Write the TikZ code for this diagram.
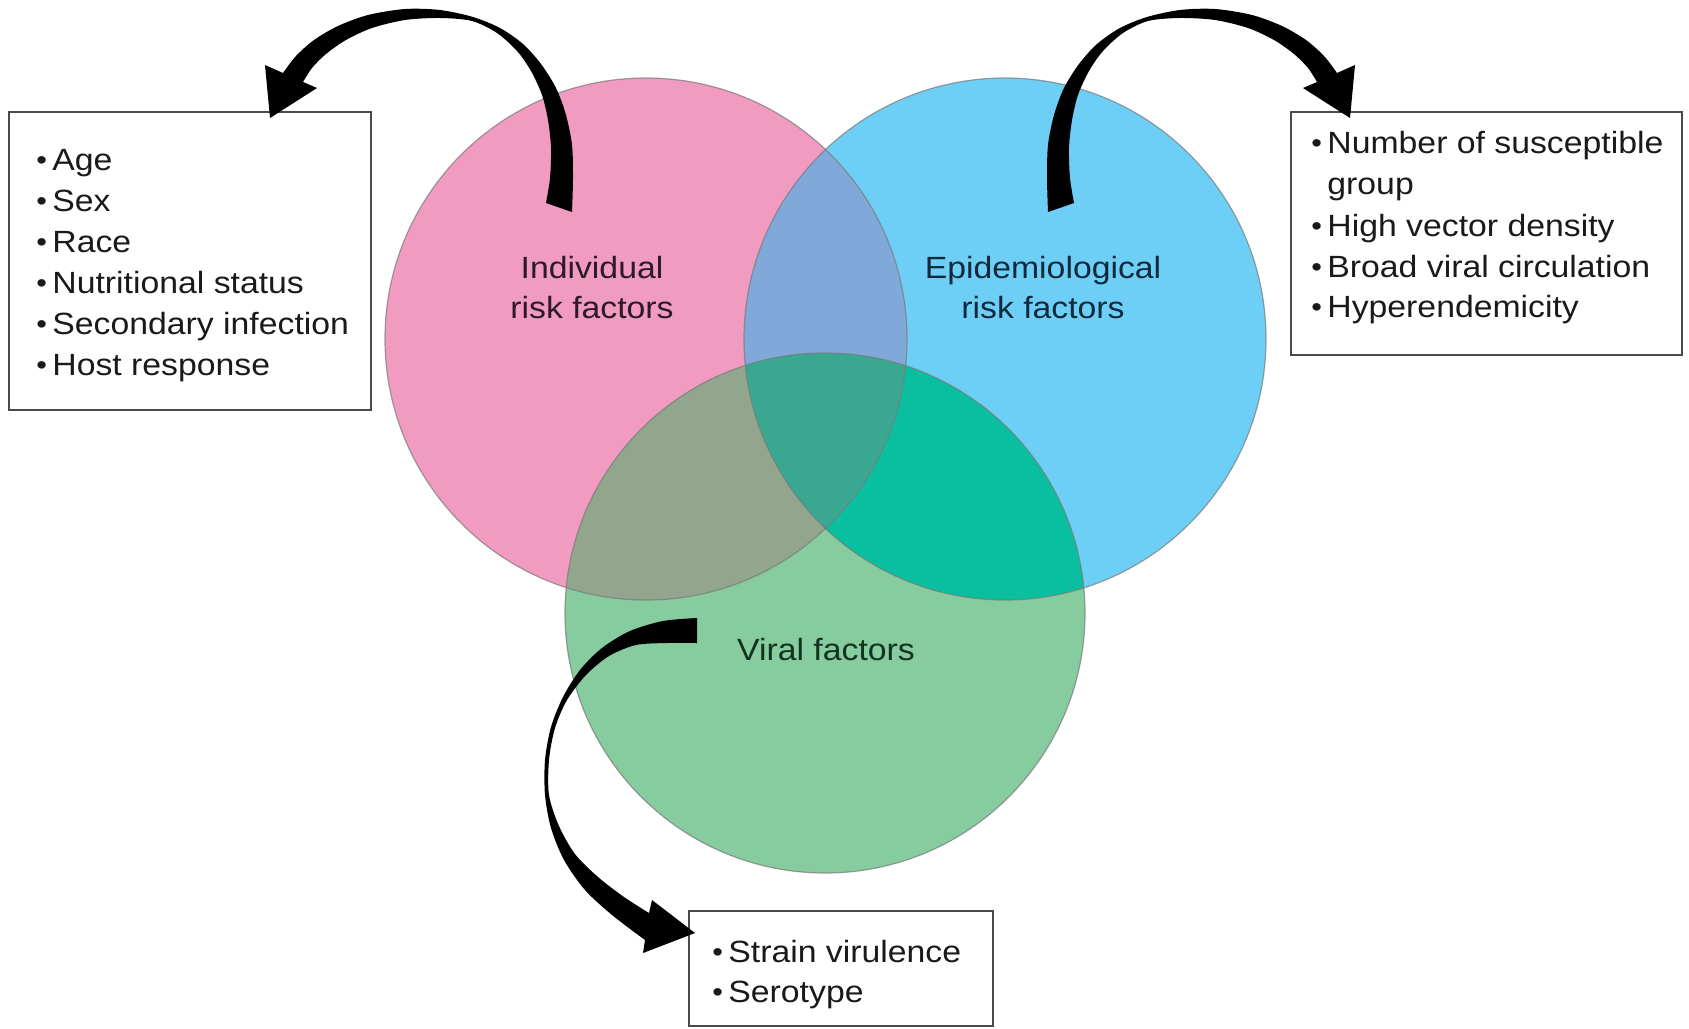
\documentclass[tikz,border=0pt]{standalone}
\usepackage{fontspec}
\setmainfont{Liberation Sans}[FakeStretch=1.1]
\usepackage{graphicx}
\definecolor{pinkc}{HTML}{F29BC1}
\definecolor{bluec}{HTML}{6DCFF6}
\definecolor{greenc}{HTML}{86CC9E}
\definecolor{pbc}{HTML}{80A8D9}
\definecolor{pgc}{HTML}{92A68E}
\definecolor{bgc}{HTML}{0ABEA0}
\definecolor{pbgc}{HTML}{3AA891}
\definecolor{pinktext}{HTML}{2D1A28}
\definecolor{bluetext}{HTML}{102A3C}
\definecolor{greentext}{HTML}{11331F}
\definecolor{boxtext}{HTML}{1A1A1A}
\definecolor{boxline}{HTML}{4A4A4A}
\definecolor{ringline}{HTML}{7A7A7A}
\newcommand{\bl}{\makebox[8pt][l]{\raisebox{0.03em}{\scalebox{0.9}{•}}}}
\tikzset{
  txt/.style={inner sep=0pt, font=\fontsize{15.35}{18}\selectfont},
  item/.style={txt, anchor=base west, text=boxtext},
  clabel/.style={txt, anchor=base},
  infobox/.style={draw=boxline, line width=1pt, fill=white},
  ring/.style={draw=ringline, line width=0.6pt, draw opacity=0.7},
  brush/.style={fill=black}
}
\begin{document}
\begin{tikzpicture}[x=0.5pt,y=-0.5pt]
\useasboundingbox (0,0) rectangle (1689,1028);
\fill[white] (0,0) rectangle (1689,1028);
% circle centres
\coordinate (cP) at (646,339);
\coordinate (cB) at (1005,339);
\coordinate (cG) at (825,613);
% base fills
\fill[pinkc] (cP) circle (130.5pt);
\fill[bluec] (cB) circle (130.5pt);
\fill[greenc] (cG) circle (130pt);
% pairwise overlaps
\begin{scope}
  \clip (cP) circle (130.5pt);
  \fill[pbc] (cB) circle (130.5pt);
  \fill[pgc] (cG) circle (130pt);
\end{scope}
\begin{scope}
  \clip (cB) circle (130.5pt);
  \fill[bgc] (cG) circle (130pt);
\end{scope}
\begin{scope}
  \clip (cP) circle (130.5pt);
  \clip (cB) circle (130.5pt);
  \fill[pbgc] (cG) circle (130pt);
\end{scope}
% outlines
\draw[ring] (cP) circle (130.5pt);
\draw[ring] (cB) circle (130.5pt);
\draw[ring] (cG) circle (130pt);
% circle labels
\node[clabel, text=pinktext] (ind1) at (592,278) {Individual};
\node[clabel, text=pinktext] (ind2) at (592,318) {risk factors};
\node[clabel, text=bluetext] (epi1) at (1043,278) {Epidemiological};
\node[clabel, text=bluetext] (epi2) at (1043,318) {risk factors};
\node[clabel, text=greentext] (vir) at (826,660) {Viral factors};
% boxes
\draw[infobox] (9,112) rectangle (371,410);
\draw[infobox] (1291,112) rectangle (1682,355);
\draw[infobox] (689,911) rectangle (993,1026);
% left box items
\node[item] (a1) at (36,170) {\bl Age};
\node[item] (a2) at (36,211) {\bl Sex};
\node[item] (a3) at (36,252) {\bl Race};
\node[item] (a4) at (36,293) {\bl Nutritional status};
\node[item] (a5) at (36,334) {\bl Secondary infection};
\node[item] (a6) at (36,375) {\bl Host response};
% right box items
\node[item] (b1) at (1311,153) {\bl Number of susceptible};
\node[item] (b2) at (1327,194) {group};
\node[item] (b3) at (1311,236) {\bl High vector density};
\node[item] (b4) at (1311,277) {\bl Broad viral circulation};
\node[item] (b5) at (1311,317) {\bl Hyperendemicity};
% bottom box items
\node[item] (c1) at (712,962) {\bl Strain virulence};
\node[item] (c2) at (712,1002) {\bl Serotype};
% left brush arrow
\fill[brush] (265,65) -- plot[smooth] coordinates {(283,73) (296,56) (314,40) (338,26) (368,15) (405,9) (440,10) (473,17) (500,28) (523,44) (541,64) (556,88) (566,115) (572,145) (573,178) (572,212)}
  -- plot[smooth] coordinates {(546,203) (550,178) (551,148) (548,120) (542,95) (531,71) (517,51) (497,33) (472,21) (440,18) (405,20) (372,28) (346,40) (326,54) (312,68) (303,82)}
  -- (317,88) -- (270,118) -- cycle;
% right brush arrow (mirror image)
\begin{scope}[shift={(1620,0)}, xscale=-1]
\fill[brush] (265,65) -- plot[smooth] coordinates {(283,73) (296,56) (314,40) (338,26) (368,15) (405,9) (440,10) (473,17) (500,28) (523,44) (541,64) (556,88) (566,115) (572,145) (573,178) (572,212)}
  -- plot[smooth] coordinates {(546,203) (550,178) (551,148) (548,120) (542,95) (531,71) (517,51) (497,33) (472,21) (440,18) (405,20) (372,28) (346,40) (326,54) (312,68) (303,82)}
  -- (317,88) -- (270,118) -- cycle;
\end{scope}
% bottom brush arrow
\fill[brush] (652,900) -- plot[smooth] coordinates {(649,913) (624,897) (598,877) (575,854) (559,826) (549,795) (549,760) (555,728) (567,700) (586,675) (609,656) (636,645) (667,643) (697,643)}
  -- plot[smooth] coordinates {(697,618) (663,621) (630,631) (602,648) (580,670) (563,697) (551,727) (545,760) (545,795) (551,828) (564,860) (585,890) (612,915) (645,940)}
  -- (643,953) -- (695,933) -- cycle;
\end{tikzpicture}
\end{document}
